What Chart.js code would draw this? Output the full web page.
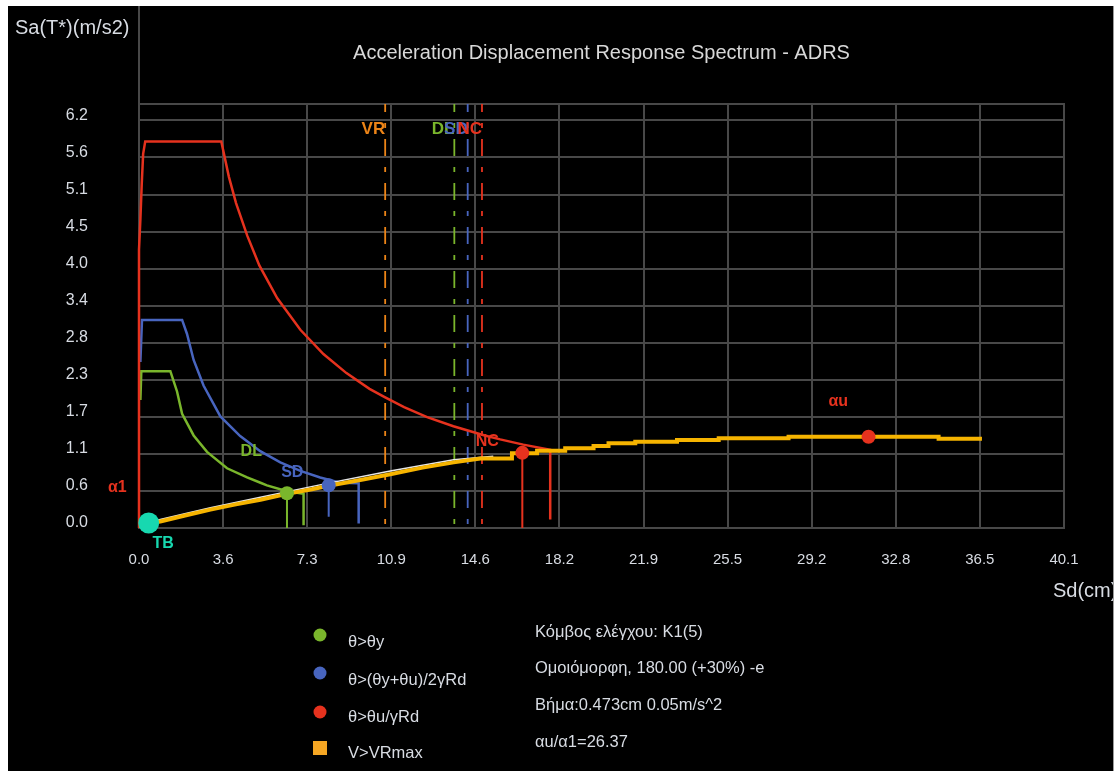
<!DOCTYPE html>
<html>
<head>
<meta charset="utf-8">
<script src="https://cdn.jsdelivr.net/npm/chart.js@4.4.1/dist/chart.umd.min.js"></script>
<style>
  html, body { margin: 0; padding: 0; background: #ffffff; overflow: hidden; }
  #box { position: absolute; left: 0; top: 0; width: 1117px; height: 771px; }
</style>
</head>
<body>
<div id="box"><canvas id="adrs" width="1117" height="771"></canvas></div>
<script>
// ---- axis ticks ----
const xTickValues = [0, 3.648, 7.296, 10.944, 14.592, 18.24, 21.888, 25.536, 29.184, 32.832, 36.48, 40.13];
const xTickLabels = ['0.0', '3.6', '7.3', '10.9', '14.6', '18.2', '21.9', '25.5', '29.2', '32.8', '36.5', '40.1'];
const yTickValues = [0, 0.5645, 1.129, 1.694, 2.258, 2.823, 3.387, 3.952, 4.516, 5.081, 5.645, 6.21];
const yTickLabels = ['0.0', '0.6', '1.1', '1.7', '2.3', '2.8', '3.4', '4.0', '4.5', '5.1', '5.6', '6.2'];
const xMax = 40.13;
const yMax = 6.46;

// ---- demand spectra, [Sd (cm), Sa (m/s2)] ----
const spectrumDL = [[0.06,1.95],[0.1,2.39],[1.36,2.39],[1.65,2.08],[1.87,1.74],[2.37,1.41],[2.95,1.16],[3.82,0.91],
  [4.69,0.77],[5.27,0.69],[5.55,0.65],[6.42,0.56],[7.14,0.52],[7.14,0.04]];
const spectrumSD = [[0.06,2.53],[0.13,3.17],[1.87,3.17],[2.08,2.96],[2.37,2.56],[2.8,2.17],[3.53,1.7],[4.39,1.4],
  [5.26,1.17],[6.13,1.0],[7.0,0.87],[7.86,0.77],[8.73,0.69],[9.53,0.68],[9.53,0.07]];
const spectrumNC = [[0,0],[0,4.24],[0.06,4.7],[0.12,5.25],[0.18,5.7],[0.27,5.89],[3.57,5.89],[3.9,5.35],[4.21,4.95],
  [4.7,4.45],[5.22,4.0],[6.0,3.5],[7.0,3.02],[8.0,2.65],[9.0,2.36],[10.0,2.12],[10.68,1.99],[11.5,1.84],[12.5,1.69],
  [13.64,1.55],[14.23,1.49],[15.0,1.41],[15.67,1.35],[16.67,1.27],[17.84,1.19],[17.84,0.13]];

// ---- capacity curve ----
const capacityCurve = [[0,0],[0.92,0.1],[2.0,0.19],[3.1,0.28],[4.2,0.36],[5.27,0.43],[6.42,0.52],[7.5,0.59],[8.16,0.64],
  [9.6,0.73],[10.9,0.82],[12.3,0.92],[13.65,1.0],[14.81,1.06],[16.18,1.06],[16.18,1.138],[17.27,1.138],[17.27,1.177],
  [18.49,1.177],[18.49,1.214],[19.72,1.214],[19.72,1.249],[20.37,1.249],[20.37,1.29],[21.53,1.29],[21.53,1.315],
  [23.34,1.315],[23.34,1.341],[25.15,1.341],[25.15,1.367],[28.18,1.367],[28.18,1.391],[34.69,1.391],[34.69,1.361],
  [36.57,1.361]];
const initialBranch = [[0,0.04],[0.92,0.13],[3.1,0.31],[5.27,0.47],[8.16,0.68],[10.9,0.87],[13.65,1.04],[15.37,1.095]];

// ---- limit displacements ----
const limitNames = ['VR', 'DL', 'SD', 'NC'];
const limitSd = [10.68, 13.68, 14.26, 14.88];

// ---- performance points ----
const perfNames = ['DL', 'SD', 'NC'];
const perfPoints = [[6.42, 0.53], [8.23, 0.65], [16.63, 1.145]];
const perfStemBase = [0, 0.17, 0];
const auPoint = [31.65, 1.39];
const tbPoint = [0.42, 0.076];
const ratioAu = 26.37;

// ---- text ----
const titleText = 'Acceleration Displacement Response Spectrum - ADRS';
const yTitle = 'Sa(T*)(m/s2)';
const xTitle = 'Sd(cm)';
const legendNames = ['θ>θy', 'θ>(θy+θu)/2γRd', 'θ>θu/γRd', 'V>VRmax'];
const infoLines = ['Κόμβος ελέγχου: K1(5)', 'Ομοιόμορφη, 180.00 (+30%) -e', 'Βήμα:0.473cm 0.05m/s^2', 'αu/α1=' + ratioAu.toFixed(2)];
// point annotations (text, Sd, Sa)
const annotations = [
  ['DL', 4.87, 1.16], ['SD', 6.65, 0.85], ['NC', 15.11, 1.32], ['αu', 30.34, 1.92], ['α1', -0.94, 0.62], ['TB', 1.05, -0.23]
];

// ---- style ----
const C = {
  green: '#7ab62c', blue: '#4865bf', red: '#e6321e', orange: '#f6b400', vr: '#ec8417',
  cyan: '#17d8b0', grid: '#484848', text: '#d8dce3', white: '#e6e6e6', legendSq: '#f5a623'
};
const annColors = [C.green, C.blue, C.red, C.red, C.red, C.cyan];
const limitColors = [C.vr, C.green, C.blue, C.red];
const perfColors = [C.green, C.blue, C.red];
const FF = "'Liberation Sans', Arial, sans-serif";

const xy = arr => arr.map(p => ({ x: p[0], y: p[1] }));

const datasets = [];
// markers on top
perfPoints.forEach((p, i) => datasets.push({
  label: perfNames[i], data: xy([p]), showLine: false, pointRadius: 7, pointHoverRadius: 7,
  pointBackgroundColor: perfColors[i], pointBorderWidth: 0, order: 0
}));
datasets.push({ label: 'au', data: xy([auPoint]), showLine: false, pointRadius: 7,
  pointBackgroundColor: C.red, pointBorderWidth: 0, order: 0 });
datasets.push({ label: 'TB', data: xy([tbPoint]), showLine: false, pointRadius: 10.5,
  pointBackgroundColor: C.cyan, pointBorderWidth: 0, order: 0, clip: false });
// stems under the performance points
perfPoints.forEach((p, i) => datasets.push({
  label: perfNames[i] + ' stem', data: xy([p, [p[0], perfStemBase[i]]]), showLine: true, pointRadius: 0,
  borderColor: perfColors[i], borderWidth: 2, order: 1
}));
datasets.push({ label: 'capacity', data: xy(capacityCurve), showLine: true, pointRadius: 0,
  borderColor: C.orange, borderWidth: 4, order: 2 });
datasets.push({ label: 'initial', data: xy(initialBranch), showLine: true, pointRadius: 0,
  borderColor: C.white, borderWidth: 1.5, order: 3 });
datasets.push({ label: 'NC spectrum', data: xy(spectrumNC), showLine: true, pointRadius: 0,
  borderColor: C.red, borderWidth: 2.5, order: 4, clip: { left: 5, top: 0, right: 0, bottom: 0 } });
datasets.push({ label: 'SD spectrum', data: xy(spectrumSD), showLine: true, pointRadius: 0,
  borderColor: C.blue, borderWidth: 2.5, order: 5 });
datasets.push({ label: 'DL spectrum', data: xy(spectrumDL), showLine: true, pointRadius: 0,
  borderColor: C.green, borderWidth: 2.5, order: 6 });
limitSd.forEach((v, i) => datasets.push({
  label: limitNames[i] + ' limit', data: xy([[v, yMax], [v, 0]]), showLine: true, pointRadius: 0,
  borderColor: limitColors[i], borderWidth: 1.8, borderDash: [17, 11, 5, 11], borderDashOffset: 9, order: 7
}));

function put(ctx, s, x, y, font, color, align, base) {
  ctx.font = font;
  ctx.fillStyle = color;
  ctx.textAlign = align || 'left';
  ctx.textBaseline = base || 'middle';
  ctx.fillText(s, x, y);
}

const frame = {
  id: 'frame',
  beforeDraw(chart) {
    const ctx = chart.ctx;
    ctx.save();
    ctx.fillStyle = '#ffffff';
    ctx.fillRect(0, 0, chart.width, chart.height);
    ctx.fillStyle = '#000000';
    ctx.fillRect(8, 6, 1105, 765);
    ctx.fillStyle = '#9a9a9a';
    ctx.fillRect(1113, 6, 1, 765);
    ctx.restore();
  },
  beforeDatasetsDraw(chart) {
    const ctx = chart.ctx, a = chart.chartArea;
    ctx.save();
    ctx.strokeStyle = C.grid;
    ctx.lineWidth = 2;
    ctx.strokeRect(a.left, a.top, a.right - a.left, a.bottom - a.top);
    ctx.beginPath();
    ctx.moveTo(a.left, 6);
    ctx.lineTo(a.left, a.top);
    ctx.stroke();
    ctx.restore();
  },
  afterDraw(chart) {
    const ctx = chart.ctx, a = chart.chartArea;
    const xs = chart.scales.x, ys = chart.scales.y;
    ctx.save();
    // titles
    put(ctx, titleText, (a.left + a.right) / 2, 53, '20px ' + FF, '#d8d8d8', 'center');
    put(ctx, yTitle, 15, 28, '20px ' + FF, C.text, 'left');
    ctx.save();
    ctx.beginPath();
    ctx.rect(8, 560, 1105, 60);
    ctx.clip();
    put(ctx, xTitle, 1053, 591, '20px ' + FF, C.text, 'left');
    ctx.restore();
    // limit names above the dashed lines
    limitSd.forEach((v, i) => {
      put(ctx, limitNames[i], xs.getPixelForValue(v), 129, 'bold 17px ' + FF, limitColors[i], 'right');
    });
    // point annotations
    annotations.forEach((t, i) => {
      put(ctx, t[0], xs.getPixelForValue(t[1]), ys.getPixelForValue(t[2]), 'bold 16px ' + FF, annColors[i], 'center');
    });
    // legend
    const ly = [635, 673, 712, 748];
    const lc = [C.green, C.blue, C.red];
    for (let i = 0; i < 3; i++) {
      ctx.fillStyle = lc[i];
      ctx.beginPath();
      ctx.arc(320, ly[i], 6.5, 0, Math.PI * 2);
      ctx.fill();
    }
    ctx.fillStyle = C.legendSq;
    ctx.fillRect(313, 741, 14, 14);
    const lty = [642, 680, 717, 753];
    legendNames.forEach((s, i) => put(ctx, s, 348, lty[i], '16.5px ' + FF, C.text, 'left'));
    // run information
    const iy = [632, 668, 705, 742];
    infoLines.forEach((s, i) => put(ctx, s, 535, iy[i], '16.5px ' + FF, C.text, 'left'));
    ctx.restore();
  }
};

new Chart(document.getElementById('adrs'), {
  type: 'scatter',
  data: { datasets },
  options: {
    responsive: false,
    animation: false,
    devicePixelRatio: 1,
    layout: { padding: { left: 0, top: 104, right: 53, bottom: 0 } },
    plugins: { legend: { display: false }, tooltip: { enabled: false }, title: { display: false } },
    elements: { line: { tension: 0 }, point: { radius: 0 } },
    scales: {
      x: {
        type: 'linear', min: 0, max: xMax,
        afterBuildTicks: s => { s.ticks = xTickValues.map(v => ({ value: v })); },
        afterFit: s => { s.height = 771 - 528; },
        ticks: { callback: (v, i) => xTickLabels[i], color: C.text, font: { family: FF, size: 15 },
                 padding: 23, maxRotation: 0, autoSkip: false },
        grid: { color: C.grid, lineWidth: 2, drawTicks: false },
        border: { display: true, color: C.grid, width: 2 }
      },
      y: {
        type: 'linear', min: 0, max: yMax,
        afterBuildTicks: s => { s.ticks = yTickValues.map(v => ({ value: v })); },
        afterFit: s => { s.width = 139; },
        ticks: { callback: (v, i) => yTickLabels[i], color: C.text, font: { family: FF, size: 16 },
                 padding: 51, crossAlign: 'center', labelOffset: -5, autoSkip: false },
        grid: { color: C.grid, lineWidth: 2, drawTicks: false },
        border: { display: true, color: C.grid, width: 2 }
      }
    }
  },
  plugins: [frame]
});
</script>
</body>
</html>
